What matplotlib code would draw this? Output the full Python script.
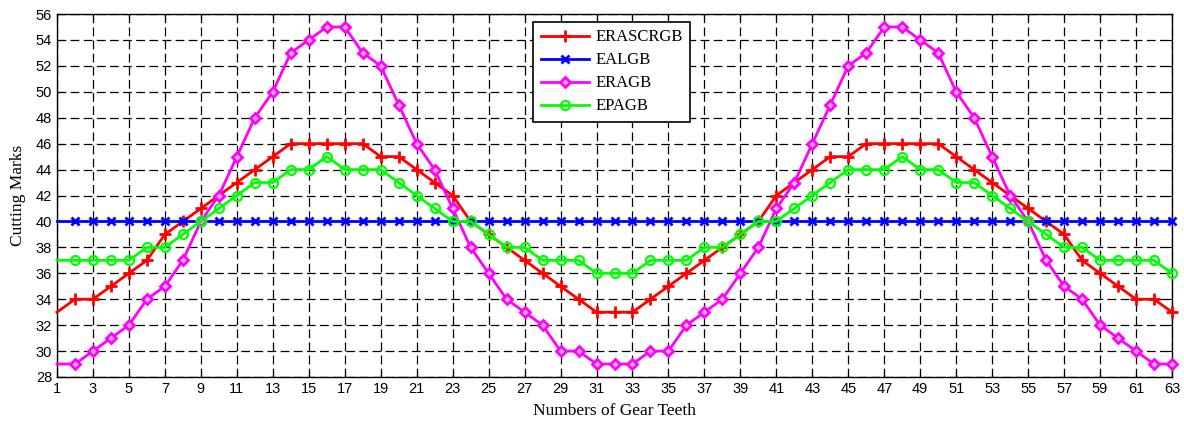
import matplotlib
matplotlib.use("Agg")
import matplotlib.pyplot as plt
import numpy as np

teeth = list(range(1, 64))

erascrgb = [33, 34, 34, 35, 36, 37, 39, 40, 41, 42, 43, 44, 45, 46, 46, 46, 46, 46, 45, 45,
            44, 43, 42, 40, 39, 38, 37, 36, 35, 34, 33, 33, 33, 34, 35, 36, 37, 38, 39, 40,
            42, 43, 44, 45, 45, 46, 46, 46, 46, 46, 45, 44, 43, 42, 41, 40, 39, 37, 36, 35,
            34, 34, 33]
ealgb = [40] * 63
eragb = [29, 29, 30, 31, 32, 34, 35, 37, 40, 42, 45, 48, 50, 53, 54, 55, 55, 53, 52, 49,
         46, 44, 41, 38, 36, 34, 33, 32, 30, 30, 29, 29, 29, 30, 30, 32, 33, 34, 36, 38,
         41, 43, 46, 49, 52, 53, 55, 55, 54, 53, 50, 48, 45, 42, 40, 37, 35, 34, 32, 31,
         30, 29, 29]
epagb = [37, 37, 37, 37, 37, 38, 38, 39, 40, 41, 42, 43, 43, 44, 44, 45, 44, 44, 44, 43,
         42, 41, 40, 40, 39, 38, 38, 37, 37, 37, 36, 36, 36, 37, 37, 37, 38, 38, 39, 40,
         40, 41, 42, 43, 44, 44, 44, 45, 44, 44, 43, 43, 42, 41, 40, 39, 38, 38, 37, 37,
         37, 37, 36]

x_ticks = list(range(1, 64, 2))
y_ticks = list(range(28, 57, 2))

fig = plt.figure(figsize=(11.84, 4.24), dpi=100)
ax = fig.add_axes([57/1184, 1 - 377/424, (1172-57)/1184, (377-14)/424])

common = dict(lw=2, markevery=slice(1, None), clip_on=False, zorder=3)
ax.plot(teeth, erascrgb, color='#ff0000', marker='+', ms=9, mew=2, label='ERASCRGB', **common)
ax.plot(teeth, ealgb, color='#0000ff', marker='x', ms=6, mew=2, label='EALGB', **common)
ax.plot(teeth, eragb, color='#ff00ff', marker='D', ms=5.5, mew=2, mfc='#ffb0ff', label='ERAGB', **common)
ax.plot(teeth, epagb, color='#00ff00', marker='o', ms=6.5, mew=1.6, mfc='none', label='EPAGB', **common)

ax.set_xlim(1, 63)
ax.set_ylim(28, 56)
ax.set_xticks(x_ticks)
ax.set_yticks(y_ticks)
ax.tick_params(direction='in', top=True, right=True, labelsize=10.5, length=4)
for lab in ax.get_xticklabels() + ax.get_yticklabels():
    lab.set_family(['Liberation Sans', 'DejaVu Sans'])
ax.grid(True, color='black', linestyle=(0, (7, 3.5)), linewidth=0.9)
for s in ax.spines.values():
    s.set_linewidth(1)

ax.set_xlabel('Numbers of Gear Teeth', family=['Liberation Serif', 'DejaVu Serif'], fontsize=12.5, labelpad=5)
ax.set_ylabel('Cutting Marks', family=['Liberation Serif', 'DejaVu Serif'], fontsize=12.5, labelpad=7)

leg = ax.legend(loc='upper left', bbox_to_anchor=(0.427, 0.978), borderaxespad=0, frameon=True, fancybox=False,
                edgecolor='black', framealpha=1, handlelength=2.9, handletextpad=0.4, borderpad=0.45,
                labelspacing=0.42,
                prop={'family': ['Liberation Serif', 'DejaVu Serif'], 'size': 12})
leg.get_frame().set_linewidth(1.2)

fig.savefig('out.png', dpi=100)
